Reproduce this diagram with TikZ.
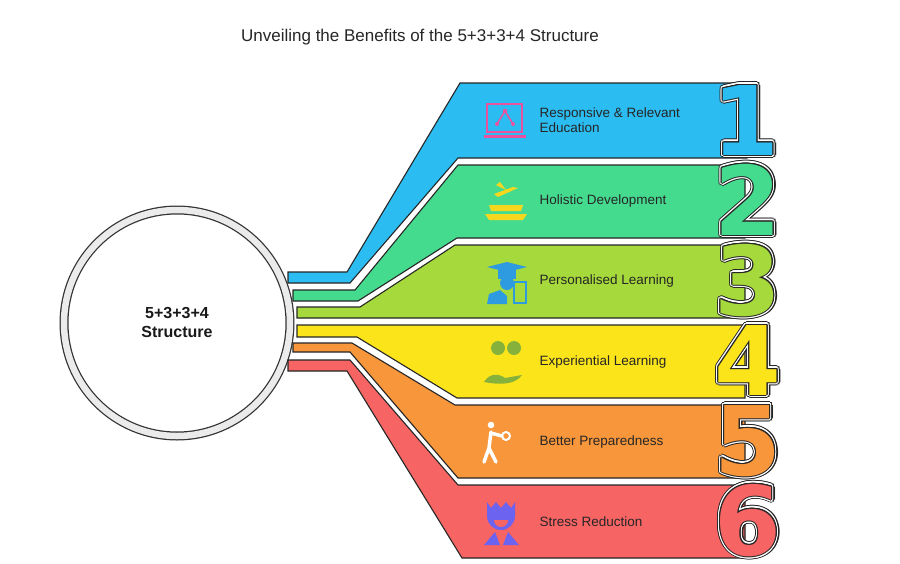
\documentclass[tikz,border=0pt]{standalone}
\usepackage{fontspec}
\setmainfont{Liberation Sans}
\newfontfamily\numfont{DejaVu Sans}
\usetikzlibrary{calc}
\begin{document}
\begin{tikzpicture}[x=1pt,y=-1pt,
  band/.style={draw=black!85,line width=1.1pt,line join=miter},
  lbl/.style={anchor=west,font=\fontsize{13.5}{15}\selectfont,text=black!85,align=left},
  numf/.style={font=\numfont\fontsize{96}{96}\selectfont\bfseries,anchor=base,inner sep=0pt}]
\definecolor{cA}{HTML}{2BBDF2}\definecolor{cB}{HTML}{45DB8F}\definecolor{cC}{HTML}{A6D93B}
\definecolor{cD}{HTML}{FCE41B}\definecolor{cE}{HTML}{F7963B}\definecolor{cF}{HTML}{F76464}
\useasboundingbox[fill=white] (0,0) rectangle (900,563);
\newcommand{\bignum}[4]{% x,y,color,digit
  \foreach \a in {0,20,...,340}{\node[numf,text=black!85] at ($(#1,#2)+(\a:3.4)$) {#4};}
  \foreach \a in {0,20,...,340}{\node[numf,text=white] at ($(#1,#2)+(\a:2.3)$) {#4};}
  \foreach \a in {0,30,...,330}{\node[numf,text=black!85] at ($(#1,#2)+(\a:1.0)$) {#4};}
  \node[numf,text=#3] at (#1,#2) {#4};}
\node[font=\fontsize{17}{19}\selectfont,text=black!85] (title) at (420,37) {Unveiling the Benefits of the 5+3+3+4 Structure};
% circle
\draw[black!80,line width=9pt] (177,323) circle (113);
\draw[black!8,line width=6.5pt] (177,323) circle (113);
\node[font=\fontsize{16}{19}\selectfont\bfseries,align=center,text=black!90] (core) at (177,322) {5+3+3+4\\Structure};
% bands
\filldraw[band,fill=cA] (288,272)--(347,272)--(460,83)--(747,83)--(747,158)--(458,158)--(350,283)--(288,283)--cycle;
\filldraw[band,fill=cB] (293,290)--(355,290)--(458,165)--(745,165)--(745,238)--(457,238)--(358,301)--(293,301)--cycle;
\filldraw[band,fill=cC] (297,307)--(360,307)--(455,245)--(745,245)--(745,318)--(297,318)--cycle;
\filldraw[band,fill=cD] (297,325)--(745,325)--(745,398)--(457,398)--(357,337)--(297,337)--cycle;
\filldraw[band,fill=cE] (293,343)--(352,343)--(455,405)--(745,405)--(745,478)--(458,478)--(350,352)--(293,352)--cycle;
\filldraw[band,fill=cF] (288,360)--(350,360)--(458,485)--(745,485)--(745,558)--(462,558)--(347,371)--(288,371)--cycle;
% numbers
\bignum{746}{155}{cA}{1}
\bignum{748}{235}{cB}{2}
\bignum{748}{315}{cC}{3}
\bignum{748}{395}{cD}{4}
\bignum{748}{475}{cE}{5}
\bignum{748}{555}{cF}{6}
% labels
\node[lbl] (l1) at (536,120) {Responsive \& Relevant\\Education};
\node[lbl] (l2) at (536,201) {Holistic Development};
\node[lbl] (l3) at (536,281) {Personalised Learning};
\node[lbl] (l4) at (536,362) {Experiential Learning};
\node[lbl] (l5) at (536,442) {Better Preparedness};
\node[lbl] (l6) at (536,522) {Stress Reduction};
% icons
\definecolor{pk}{HTML}{E8529E}
\draw[pk,line width=2pt] (487,104) rectangle (522,132);
\fill[pk] (484,135) rectangle (526,138);
\draw[pk,line width=1.5pt] (497,124)--(505,111)--(513,124);
\fill[pk] (505,111) circle (2.2) (497,124) circle (2) (513,124) circle (2);
\definecolor{yl}{HTML}{F5D81E}
\fill[yl] (485,214)--(527,214)--(523,220)--(489,220)--cycle;
\fill[yl] (489,205)--(523,205)--(521,211)--(491,211)--cycle;
\fill[yl] (494,194)--(513,187)--(518,188)--(498,197)--cycle;
\fill[yl] (496,185)--(500,182)--(506,190)--cycle;
\definecolor{bl}{HTML}{2E9BE0}
\fill[bl] (487,267)--(507,262)--(527,267)--(507,272)--cycle;
\fill[bl] (498,270) rectangle (516,279);
\fill[bl] (507,283) circle (7);
\fill[bl] (487,304)--(489,294)--(500,290)--(507,296)--(507,304)--cycle;
\draw[bl,line width=2pt] (514,282) rectangle (526,303);
\definecolor{ol}{HTML}{86B23B}
\fill[ol] (498,348) circle (7) (514,348) circle (7);
\fill[ol] (484,382)..controls (490,372) and (500,374)..(505,378)--(522,375)..controls (515,385) and (500,385)..(484,382);
\fill[white] (491,425) circle (3.3);
\draw[white,line width=3.5pt,line cap=round] (491,432)--(489,448)--(484,462) (489,448)--(496,462) (491,433)--(502,436);
\draw[white,line width=2pt] (506,436) circle (4);
\definecolor{pu}{HTML}{6C63F0}
\fill[pu] (487,502)--(491,508)--(496,502)--(501,508)--(506,502)--(511,508)--(515,502)--(515,512)--(487,512)--cycle;
\fill[pu] (487,512) rectangle (515,516) (487,516) arc (180:0:14)--cycle;
\fill[cF] (494,520) arc (180:0:7)--cycle;
\fill[pu] (484,545)--(495,532)--(500,545)--cycle (503,545)--(508,532)--(519,545)--cycle;
\end{tikzpicture}
\end{document}
